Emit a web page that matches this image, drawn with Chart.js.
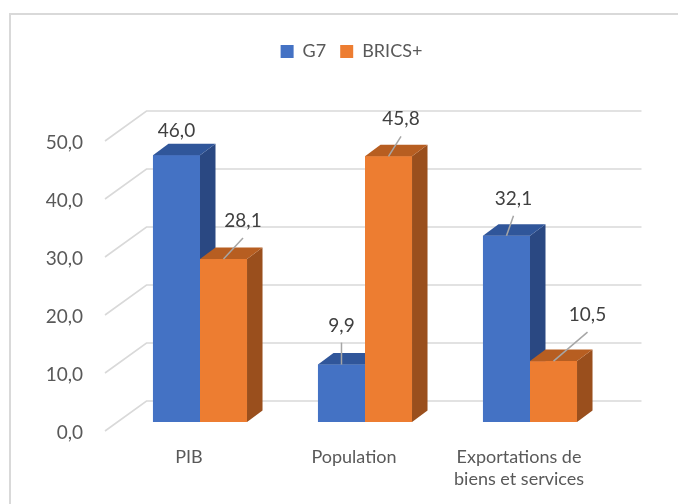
<!DOCTYPE html>
<html>
<head>
<meta charset="utf-8">
<script src="https://cdn.jsdelivr.net/npm/chart.js@4.4.1/dist/chart.umd.min.js"></script>
<style>
  html, body { margin: 0; padding: 0; background: #fff; overflow: hidden; }
  #wrap { position: relative; width: 678px; height: 504px; }
  #frame { position: absolute; left: 9px; top: 13px; width: 720px; height: 540px; border: 2px solid #D9D9D9; box-sizing: border-box; }
  #chart { position: absolute; left: 0; top: 0; }
</style>
</head>
<body>
<div id="wrap">
  <div id="frame"></div>
  <canvas id="chart" width="678" height="504"></canvas>
</div>
<script>
  // data
  var categories = ['PIB', 'Population', ['Exportations de', 'biens et services']];
  var seriesNames = ['G7', 'BRICS+'];
  var g7 = [46.0, 9.9, 32.1];
  var brics = [28.1, 45.8, 10.5];
  var yTicks = [0, 10, 20, 30, 40, 50];

  // styles: front, top, side
  var frontColors = ['#4472C4', '#ED7D31'];
  var topColors = ['#30569A', '#B75E21'];
  var sideColors = ['#2A4882', '#9A4F1D'];

  // Excel-ish 3D depth
  var WALL = { x: 29, y: -21 };
  var BAR_DEPTH = { x: 15.5, y: -11.5 };
  // manual nudges for the data labels (relative to top of the bar front)
  var labelNudge = [
    [[0, -24], [0, -39], [7, -37]],
    [[19.5, -38], [12.5, -37], [34, -46]]
  ];

  function fmt(v) { return v.toFixed(1).replace('.', ','); }

  // legend: extra room below it, and nudged right like in the original
  var legendTweak = {
    id: 'legendTweak',
    beforeInit: function (chart) {
      var fit = chart.legend.fit;
      chart.legend.fit = function () {
        fit.call(this);
        this.height += 61.5;
      };
    },
    afterLayout: function (chart) {
      chart.legend.left += 25.25;
      chart.legend.right += 25.25;
    }
  };

  var bars3d = {
    id: 'bars3d',
    beforeDatasetsDraw: function (chart) {
      var ctx = chart.ctx, a = chart.chartArea, y = chart.scales.y;
      ctx.save();
      ctx.strokeStyle = '#D9D9D9';
      ctx.lineWidth = 1.6;
      y.ticks.forEach(function (t) {
        var py = y.getPixelForValue(t.value);
        ctx.beginPath();
        ctx.moveTo(a.left - 12.5, py + 9);
        ctx.lineTo(a.left + WALL.x, py + WALL.y);
        ctx.lineTo(a.right + WALL.x, py + WALL.y);
        ctx.stroke();
      });
      ctx.restore();
    },
    afterDatasetsDraw: function (chart) {
      var ctx = chart.ctx;
      var nCat = chart.data.labels.length;
      var nSet = chart.data.datasets.length;
      ctx.save();
      for (var i = 0; i < nCat; i++) {
        for (var d = 0; d < nSet; d++) {
          var el = chart.getDatasetMeta(d).data[i];
          var p = el.getProps(['x', 'y', 'base', 'width'], true);
          var l = p.x - p.width / 2, r = p.x + p.width / 2;
          var dx = BAR_DEPTH.x, dy = BAR_DEPTH.y;
          ctx.fillStyle = frontColors[d];
          ctx.fillRect(l, p.y, p.width, p.base - p.y);
          ctx.fillStyle = sideColors[d];
          ctx.beginPath();
          ctx.moveTo(r, p.y); ctx.lineTo(r + dx, p.y + dy);
          ctx.lineTo(r + dx, p.base + dy); ctx.lineTo(r, p.base);
          ctx.closePath(); ctx.fill();
          ctx.fillStyle = topColors[d];
          ctx.beginPath();
          ctx.moveTo(l, p.y); ctx.lineTo(r, p.y);
          ctx.lineTo(r + dx, p.y + dy); ctx.lineTo(l + dx, p.y + dy);
          ctx.closePath(); ctx.fill();
        }
      }
      // data labels with leader lines
      ctx.font = '19px Lato';
      ctx.textAlign = 'center';
      ctx.textBaseline = 'middle';
      for (var d2 = 0; d2 < nSet; d2++) {
        var meta = chart.getDatasetMeta(d2);
        var vals = chart.data.datasets[d2].data;
        meta.data.forEach(function (el, j) {
          var p = el.getProps(['x', 'y'], true);
          var n = labelNudge[d2][j];
          var lx = p.x + n[0], ly = p.y + n[1];
          var ex = lx, ey = ly + 17;
          if (Math.hypot(ex - p.x, ey - p.y) > 10) {
            ctx.strokeStyle = '#A6A6A6';
            ctx.lineWidth = 1.5;
            ctx.beginPath();
            ctx.moveTo(p.x, p.y);
            ctx.lineTo(ex, ey);
            ctx.stroke();
          }
          ctx.fillStyle = '#404040';
          ctx.fillText(fmt(vals[j]), lx, ly);
        });
      }
      ctx.restore();
    }
  };

  new Chart(document.getElementById('chart'), {
    type: 'bar',
    data: {
      labels: categories,
      datasets: [
        { label: seriesNames[0], data: g7, backgroundColor: frontColors[0] },
        { label: seriesNames[1], data: brics, backgroundColor: frontColors[1] }
      ]
    },
    options: {
      responsive: false,
      devicePixelRatio: 1,
      animation: false,
      layout: { padding: { left: 40, right: 65.5, top: 28.5, bottom: 0 } },
      datasets: { bar: { barPercentage: 1, categoryPercentage: 0.57 } },
      plugins: {
        legend: {
          position: 'top',
          labels: {
            boxWidth: 13, boxHeight: 13, padding: 14,
            color: '#595959',
            font: { family: 'Lato', size: 18 }
          }
        },
        tooltip: { enabled: false }
      },
      scales: {
        x: {
          grid: { display: false },
          border: { display: false },
          ticks: {
            color: '#595959',
            font: { family: 'Lato', size: 18, lineHeight: 1.22 },
            padding: 16,
            labelOffset: -11,
            maxRotation: 0,
            autoSkip: false
          },
          afterFit: function (scale) { scale.height = 82; }
        },
        y: {
          min: yTicks[0],
          max: yTicks[yTicks.length - 1],
          grid: { display: false, drawTicks: false },
          border: { display: false },
          ticks: {
            stepSize: 10,
            color: '#595959',
            font: { family: 'Lato', size: 19 },
            padding: 34.5,
            labelOffset: 11,
            callback: function (v) { return fmt(v); }
          },
          afterFit: function (scale) { scale.width = 77.5; }
        }
      }
    },
    plugins: [legendTweak, bars3d]
  });
</script>
</body>
</html>
